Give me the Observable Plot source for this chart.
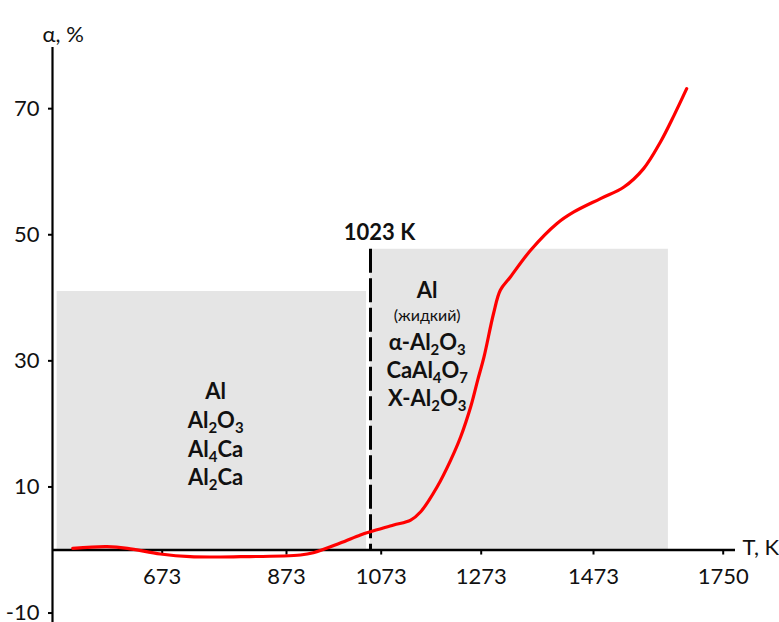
<!DOCTYPE html>
<html><head><meta charset="utf-8">
<script src="https://cdn.jsdelivr.net/npm/d3@7"></script>
<script src="https://cdn.jsdelivr.net/npm/@observablehq/plot@0.6"></script>
<style>body{margin:0;background:#fff}</style>
</head><body><div id="chart"></div>
<script>
// ---- data ----
const T_TICKS = [673, 873, 1073, 1273, 1473, 1750];
const Y_TICKS = [-10, 10, 30, 50, 70];
const curveT = [529, 584, 617, 670, 718, 799, 898, 921, 969, 1005, 1023, 1098, 1132, 1152, 1185, 1212, 1232, 1252, 1266, 1278, 1295, 1307, 1325, 1361, 1408, 1438, 1488, 1538, 1580, 1616, 1645, 1672];
const curveA = [0.27, 0.52, 0.27, -0.63, -1.06, -1.06, -0.79, -0.43, 1.11, 2.38, 2.9, 3.96, 4.75, 6.07, 10.03, 14.26, 17.96, 22.71, 26.94, 30.63, 37.51, 41.2, 43.31, 47.54, 51.78, 53.61, 55.74, 57.57, 60.49, 64.71, 68.94, 73.17];
const zoneX1 = [504, 1023];
const zoneX2 = [1016, 1633];
const zoneTop = [41, 47.7];
const phaseLow = ["Al", "Al_2O_3", "Al_4Ca", "Al_2Ca"];
const phaseHigh = ["Al", "α-Al_2O_3", "CaAl_4O_7", "X-Al_2O_3"];
const liquidNote = "(жидкий)";
const meltT = 1023;
const meltLabel = "1023 K";
const xLabel = "T, K";
const yLabel = "α, %";

// ---- tables built from the arrays ----
const curve = curveT.map((t, i) => ({t, a: curveA[i]}));
const zones = zoneX1.map((x1, i) => ({x1, x2: zoneX2[i], top: zoneTop[i]}));

// axis extent (data units) and the piecewise layout of the hand-drawn T axis
const T_MIN = 496.5, T_MAX = 1776;
const A_MIN = -11.5, A_MAX = 79.7;
const lowY = [25.0, 20.45, 15.9, 11.35];
const highY = [41.1, 32.9, 28.4, 24.0];

const chart = Plot.plot({
  width: 779, height: 622,
  marginLeft: 52, marginRight: 44, marginTop: 47, marginBottom: 0,
  style: {fontFamily: "Lato, 'Open Sans', sans-serif", fontSize: "22px", color: "#111", background: "#fff", overflow: "visible"},
  x: {type: "linear",
      domain: [T_MIN, 673, 873, 1023, 1073, 1273, 1473, 1750, T_MAX],
      range: [52, 161.7, 286, 370, 380.7, 480.7, 593, 722.7, 735],
      axis: null},
  y: {domain: [A_MIN, A_MAX], range: [622, 47], ticks: Y_TICKS, tickFormat: d => String(d), tickSize: 4, tickPadding: 9, label: null},
  marks: [
    Plot.rect(zones, {x1: "x1", x2: "x2", y1: 0, y2: "top", fill: "#e5e5e5"}),
    Plot.ruleX([meltT], {y1: 47.7, y2: 0, stroke: "#000", strokeWidth: 3, strokeDasharray: "24,5.5"}),
    Plot.ruleX([T_MIN], {y1: A_MIN, y2: A_MAX, stroke: "#000", strokeWidth: 2.2}),
    Plot.ruleY([0], {x1: T_MIN, x2: T_MAX, stroke: "#000", strokeWidth: 2.5}),
    Plot.ruleX(T_TICKS, {y1: 0, y2: -0.8, stroke: "#000", strokeWidth: 2}),
    Plot.text(T_TICKS, {x: d => d, y: 0, dy: 27, text: d => String(d)}),
    Plot.text([xLabel], {x: T_MAX, y: 0, dx: 7, dy: -2, textAnchor: "start"}),
    Plot.text([yLabel], {frameAnchor: "top-left", dx: -10, dy: -21}),
    Plot.line(curve, {x: "t", y: "a", stroke: "#f00", strokeWidth: 3.2, curve: "catmull-rom"}),
    Plot.text([meltLabel], {x: meltT, y: 50.3, dx: 9, fontWeight: "bold"}),
    Plot.text(phaseLow, {x: 759, y: (d, i) => lowY[i], fontWeight: "bold"}),
    Plot.text(phaseHigh, {x: 1165, y: (d, i) => highY[i], fontWeight: "bold"}),
    Plot.text([liquidNote], {x: 1165, y: 37.2, fontSize: 16})
  ]
});

// subscripts: "Al_2O_3" -> Al<sub>2</sub>O<sub>3</sub>
chart.querySelectorAll("text").forEach(t => {
  const s = t.textContent;
  if (!s.includes("_")) return;
  const parts = s.split(/_(\d)/);
  t.textContent = "";
  let shifted = false;
  parts.forEach((p, i) => {
    if (p === "") return;
    const ts = document.createElementNS("http://www.w3.org/2000/svg", "tspan");
    ts.textContent = p;
    if (i % 2 === 1) {
      ts.setAttribute("font-size", "0.68em");
      if (!shifted) ts.setAttribute("dy", "5");
      shifted = true;
    } else if (shifted) {
      ts.setAttribute("dy", "-5");
      shifted = false;
    }
    t.appendChild(ts);
  });
});
// thicker y-axis ticks
chart.querySelectorAll('[aria-label^="y-axis"] path, [aria-label^="y-axis"] line').forEach(e => {
  e.setAttribute("stroke-width", "2"); e.setAttribute("stroke", "#000");
});
document.getElementById("chart").appendChild(chart);
</script></body></html>
